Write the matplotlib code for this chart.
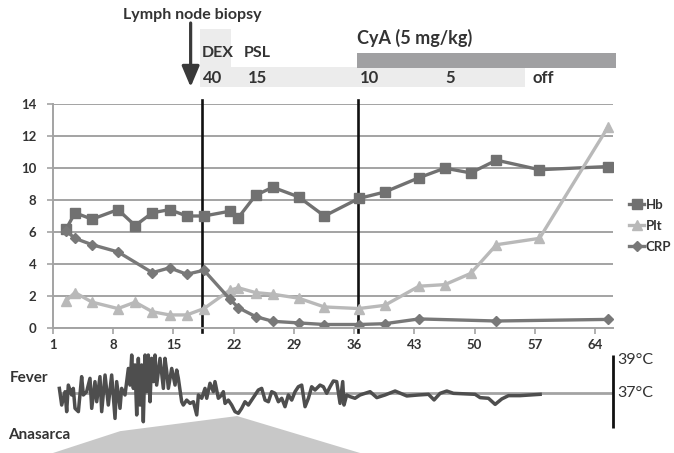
import numpy as np
import matplotlib.pyplot as plt
from matplotlib.patches import Polygon, Rectangle

plt.rcParams['font.family'] = ['Lato', 'DejaVu Sans']

W, H = 674, 453

# laboratory data (day of illness)
days = [2, 3, 5, 8, 10, 12, 14, 16, 18, 21, 22, 24, 26, 29, 32, 36, 39, 43, 46, 49, 52, 57, 65]
hb = [6.2, 7.2, 6.8, 7.4, 6.4, 7.2, 7.4, 7.0, 7.0, 7.3, 6.9, 8.3, 8.8, 8.2, 7.0,
      8.1, 8.5, 9.4, 10.0, 9.7, 10.5, 9.9, 10.1]
plt_count = [1.7, 2.2, 1.6, 1.2, 1.6, 1.0, 0.8, 0.8, 1.2, 2.35, 2.5, 2.2, 2.1, 1.85, 1.3,
             1.2, 1.4, 2.6, 2.7, 3.4, 5.2, 5.6, 12.6]
crp_days = [2, 3, 5, 8, 12, 14, 16, 18, 21, 22, 24, 26, 29, 32, 36, 39, 43, 52, 65]
crp = [6.05, 5.6, 5.2, 4.75, 3.45, 3.75, 3.35, 3.6, 1.8, 1.25, 0.7, 0.4, 0.3, 0.2,
       0.2, 0.25, 0.55, 0.42, 0.52]
xtick_days = [1, 8, 15, 22, 29, 36, 43, 50, 57, 64]
event_lines = [18.3, 36.5]

# treatment
biopsy_day = 17.0
dex_span = (18.1, 21.7)
psl_span = (21.7, 55.9)
cya_span = (36.3, 66.5)
dose_days = [18.4, 23.7, 36.7, 46.6, 56.7]
dose_labels = ['40', '15', '10', '5', 'off']

# body temperature trace
fever_days = [1.74, 2.01, 2.40, 2.59, 2.78, 3.17, 3.36, 3.56, 3.95, 4.33, 4.53, 4.91, 5.30,
              5.50, 5.88, 6.08, 6.46, 6.66, 7.05, 7.43, 7.82, 8.21, 8.40, 8.79, 8.98, 9.37,
              9.76, 9.95, 10.15, 10.34, 10.53, 10.73, 10.92, 11.12, 11.31, 11.50, 11.70,
              11.89, 12.08, 12.28, 12.47, 12.67, 12.86, 13.05, 13.44, 13.83, 14.02, 14.22,
              14.41, 14.80, 15.19, 15.38, 15.57, 15.96, 16.15, 16.54, 16.93, 17.32, 17.71,
              17.90, 18.29, 18.67, 18.87, 19.25, 19.64, 19.83, 20.22, 20.61, 20.80, 21.0,
              21.38, 21.77, 22.16, 22.55, 22.93, 23.32, 23.71, 24.10, 24.49, 24.87, 25.26,
              25.65, 26.04, 26.42, 26.81, 27.20, 27.59, 27.97, 28.36, 28.75, 29.14, 29.52,
              29.91, 30.30, 30.69, 31.07, 31.46, 32.04, 32.43, 32.82, 33.21, 33.59, 33.98,
              34.37, 34.68, 34.83, 35.14, 35.53, 36.11, 36.69, 37.86, 38.64, 39.6, 40.77,
              42.13, 43.48, 44.65, 45.3, 46.0, 46.78, 47.55, 50.07, 50.65, 51.62, 52.4,
              53.17, 53.95, 55.3, 57.63]
fever_temp = [37.28, 36.27, 37.08, 35.87, 37.48, 36.88, 37.28, 36.07, 35.87, 37.99, 36.88,
              37.08, 37.89, 36.07, 37.69, 36.47, 37.99, 35.87, 38.09, 36.27, 38.09, 35.46,
              37.69, 36.07, 37.28, 36.88, 38.49, 37.48, 39.30, 37.28, 38.70, 35.67, 39.10,
              36.27, 38.70, 35.26, 39.30, 37.08, 39.30, 36.47, 39.10, 37.69, 39.30, 37.48,
              39.10, 37.28, 39.10, 38.29, 37.28, 38.49, 37.48, 38.39, 37.89, 36.47, 36.27,
              36.57, 36.37, 36.47, 35.67, 36.88, 36.68, 37.28, 36.68, 37.59, 37.08, 37.69,
              36.68, 36.88, 37.08, 36.37, 36.57, 36.27, 35.87, 35.77, 36.07, 36.47, 36.27,
              36.57, 36.88, 37.18, 37.28, 36.57, 36.47, 37.08, 36.98, 36.47, 36.68, 36.17,
              36.88, 36.57, 37.08, 37.38, 37.48, 36.17, 36.68, 37.38, 37.18, 37.48, 37.38,
              36.98, 37.38, 37.73, 37.69, 36.37, 37.69, 36.27, 36.88, 36.78, 36.68, 36.88,
              37.08, 36.72, 36.88, 37.12, 36.82, 36.88, 36.92, 36.58, 36.98, 37.12, 36.98,
              36.92, 36.72, 36.68, 36.31, 36.64, 36.84, 36.84, 36.92]

# anasarca (relative severity)
anasarca_days = [1.0, 8.8, 22.4, 36.7]
anasarca_level = [0.0, 0.52, 0.88, 0.0]

SHIFT = 0.55  # excel category centering
X0, X1 = 1.0, 66.1
DARK = '#333333'


def px_axes(left, top, right, bottom):
    return fig.add_axes([left / W, 1 - bottom / H, (right - left) / W, (bottom - top) / H])


fig = plt.figure(figsize=(W / 100, H / 100), dpi=100)

# ---- main lab chart
ax = px_axes(53, 104.3, 613, 327.7)
x_lab = np.array(days) + SHIFT
ax.plot(x_lab, hb, color='#717171', lw=2.4, marker='s', ms=6.5, label='Hb')
ax.plot(x_lab, plt_count, color='#b9b9b9', lw=2.4, marker='^', ms=7, label='Plt')
ax.plot(np.array(crp_days) + SHIFT, crp, color='#787878', lw=2.4, marker='D', ms=4.8, label='CRP')
for xv in event_lines:
    ax.axvline(xv, ymin=-0.02, ymax=1.02, color='#111111', lw=1.9, clip_on=False, zorder=1)

ax.set_xlim(X0, X1)
ax.set_ylim(0, 14)
ax.set_yticks(range(0, 15, 2))
ax.set_xticks(xtick_days)
ax.grid(axis='y', color='#a3a3a3', lw=1.4)
ax.set_axisbelow(True)
for s in ['top', 'right']:
    ax.spines[s].set_visible(False)
for s in ['left', 'bottom']:
    ax.spines[s].set_color('#a3a3a3')
    ax.spines[s].set_linewidth(1.4)
ax.tick_params(colors='#a3a3a3', labelcolor=DARK, length=4, width=1.2, labelsize=9.5)
ax.tick_params(axis='y', pad=8)
ax.tick_params(axis='x', pad=4)
for lab in ax.get_xticklabels() + ax.get_yticklabels():
    lab.set_fontweight('bold')

fig.legend(loc='upper left', bbox_to_anchor=(622 / W, 1 - 192 / H), frameon=False,
           handlelength=1.2, handletextpad=0.1, labelspacing=0.7, borderpad=0,
           prop={'weight': 'bold', 'size': 9.5}, labelcolor=DARK)

# ---- treatment panel
ax_t = px_axes(53, 0, 613, 100)
ax_t.set_xlim(X0, X1)
ax_t.set_ylim(100, 0)
ax_t.axis('off')
ax_t.add_patch(Rectangle((dex_span[0], 29), dex_span[1] - dex_span[0], 58,
                         color='#ececec', lw=0, clip_on=False))
ax_t.add_patch(Rectangle((psl_span[0], 67), psl_span[1] - psl_span[0], 20,
                         color='#ececec', lw=0, clip_on=False))
ax_t.add_patch(Rectangle((cya_span[0], 53), cya_span[1] - cya_span[0], 15,
                         color='#a0a0a2', lw=0, clip_on=False))
ax_t.annotate('', xy=(biopsy_day, 87), xytext=(biopsy_day, 23),
              arrowprops=dict(arrowstyle='-|>,head_width=0.38,head_length=0.9', lw=2.3,
                              color='#3a3a3a', mutation_scale=14, shrinkA=0, shrinkB=0))
tkw = dict(fontweight='bold', color=DARK, va='center')
ax_t.text(17.2, 15, 'Lymph node biopsy', ha='center', fontsize=11.5, **tkw)
ax_t.text(18.3, 53, 'DEX', ha='left', fontsize=11.5, **tkw)
ax_t.text(23.2, 53, 'PSL', ha='left', fontsize=11.5, **tkw)
ax_t.text(36.3, 38, 'CyA (5 mg/kg)', ha='left', fontsize=13, **tkw)
for d, lab in zip(dose_days, dose_labels):
    ax_t.text(d, 78, lab, ha='left', fontsize=12, **tkw)

# ---- fever panel
ax_f = px_axes(53, 345, 613, 453)
ax_f.set_xlim(X0, X1)
ax_f.set_ylim(37 - 60 / 16.5, 37 + 48 / 16.5)
ax_f.axis('off')
ax_f.hlines(37, 1.8, X1, color='#a3a3a3', lw=2)
ax_f.plot(fever_days, fever_temp, color='#4e4e4e', lw=2.5, solid_joinstyle='round')
ax_f.vlines(X1, 34.88, 39.3, color='#111111', lw=2, clip_on=False)
ax_f.text(66.6, 39, '39°C', fontsize=11.5, color=DARK, va='center', ha='left', clip_on=False)
ax_f.text(66.6, 37, '37°C', fontsize=11.5, color=DARK, va='center', ha='left', clip_on=False)

# ---- anasarca panel
ax_a = px_axes(53, 411, 613, 453)
ax_a.set_xlim(X0, X1)
ax_a.set_ylim(0, 1)
ax_a.axis('off')
ax_a.add_patch(Polygon(np.column_stack([anasarca_days, anasarca_level]), closed=True,
                       color='#c8c8c8', lw=0))
ax_a.set_zorder(-1)

fig.text(10 / W, 1 - 378 / H, 'Fever', fontsize=11, fontweight='bold', color=DARK, va='center')
fig.text(8 / W, 1 - 435 / H, 'Anasarca', fontsize=11, fontweight='bold', color=DARK, va='center')

fig.savefig('out.png', dpi=100)
